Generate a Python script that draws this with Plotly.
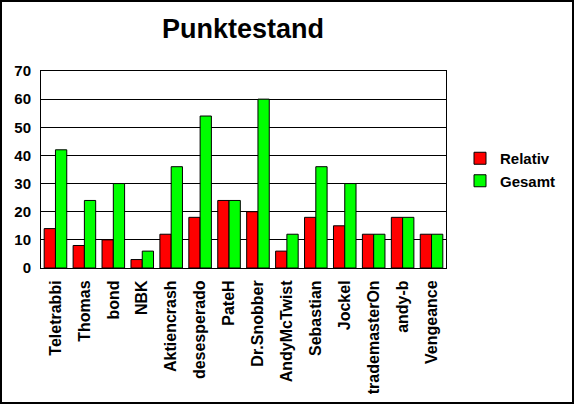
import plotly.graph_objects as go

categories = ["Teletrabbi", "Thomas", "bond", "NBK", "Aktiencrash", "desesperado", "PateH",
              "Dr.Snobber", "AndyMcTwist", "Sebastian", "Jockel", "trademasterOn", "andy-b", "Vengeance"]
relativ = [14, 8, 10, 3, 12, 18, 24, 20, 6, 18, 15, 12, 18, 12]
gesamt = [42, 24, 30, 6, 36, 54, 24, 60, 12, 36, 30, 12, 18, 12]
y_ticks = [0, 10, 20, 30, 40, 50, 60, 70]

W, H = 576, 406
x0, x1, y0, y1 = 41, 446, 71, 268

FAM = "Liberation Sans, Arial, sans-serif"
def f(size):
    return dict(family=FAM, size=size, color="black", weight="bold")

fig = go.Figure()
fig.add_trace(go.Bar(name="Relativ", x=categories, y=relativ,
                     marker=dict(color="#ff0000", line=dict(color="black", width=1))))
fig.add_trace(go.Bar(name="Gesamt", x=categories, y=gesamt,
                     marker=dict(color="#00ff00", line=dict(color="black", width=1))))

fig.update_layout(
    width=W, height=H,
    margin=dict(l=0, r=0, t=0, b=0),
    paper_bgcolor="white", plot_bgcolor="white",
    barmode="group", bargap=0.22, bargroupgap=0.0,
    font=f(15),
    title=dict(text="Punktestand", x=243 / W, xanchor="center", y=1 - 29 / H, yanchor="middle",
               font=f(27)),
    xaxis=dict(domain=[x0 / W, x1 / W], tickangle=-90, showgrid=False, ticks="",
               showline=True, linecolor="black", linewidth=1, mirror=True,
               tickfont=f(16), automargin=False, ticklabelstandoff=5),
    yaxis=dict(domain=[1 - y1 / H, 1 - y0 / H], range=[0, 70], tickvals=y_ticks,
               showgrid=True, gridcolor="black", gridwidth=1, zeroline=False, ticks="",
               showline=True, linecolor="black", linewidth=1, mirror=True,
               tickfont=f(15), automargin=False, ticklabelstandoff=6),
    legend=dict(x=460 / W, xanchor="left", y=1 - 142 / H, yanchor="top",
                font=f(15), bgcolor="rgba(0,0,0,0)", tracegroupgap=0),
    shapes=[dict(type="rect", xref="paper", yref="paper",
                 x0=1 / W, x1=573 / W, y0=1 - 403 / H, y1=1 - 1 / H,
                 line=dict(color="black", width=2))],
)

fig.write_html("out.html", config={"displayModeBar": False},
               post_script="document.body.style.margin='0';document.body.style.padding='0';")
